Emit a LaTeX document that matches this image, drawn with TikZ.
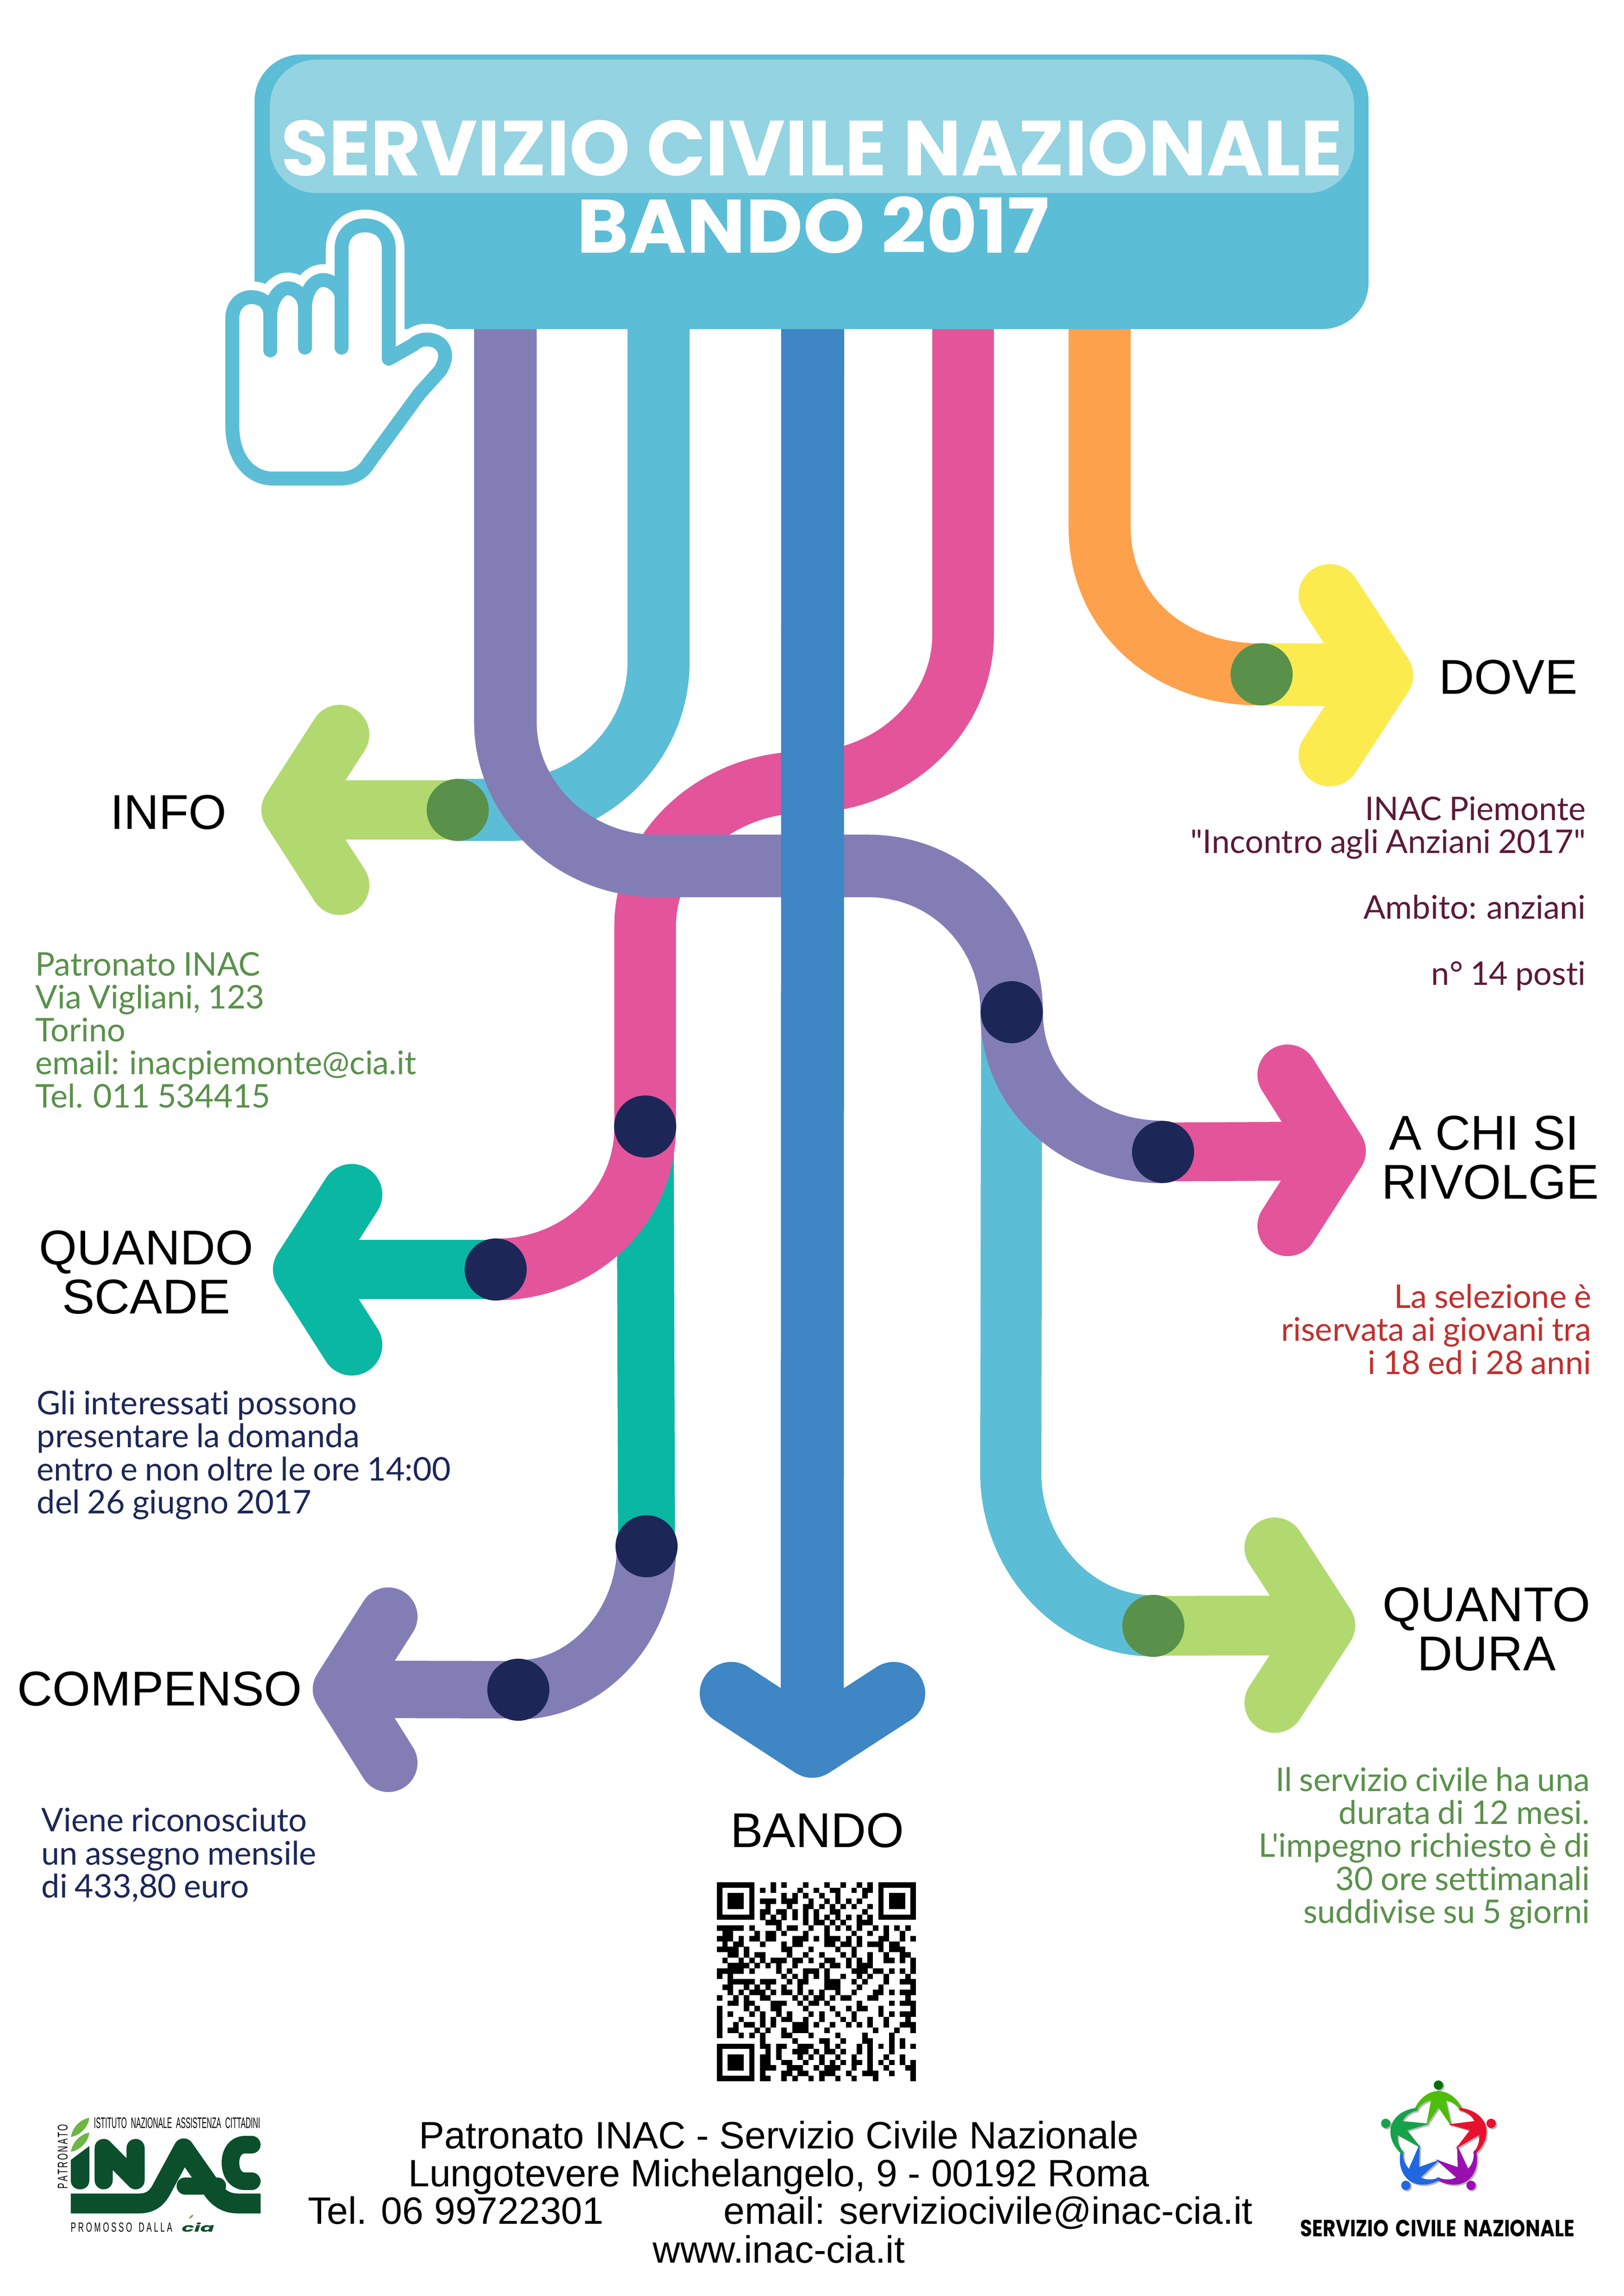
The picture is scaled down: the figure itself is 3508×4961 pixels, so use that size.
\documentclass[tikz,border=0pt]{standalone}
\usepackage{fontspec}
\usepackage{graphicx}
\setmainfont{Liberation Sans}
\newfontfamily\latofont[Ligatures={NoCommon},WordSpace=0.88]{Lato}
\newfontfamily\popfont{Poppins}
\definecolor{hdr}{HTML}{5CBDD6}
\definecolor{hdrl}{HTML}{93D3E2}
\definecolor{cpurple}{HTML}{837DB6}
\definecolor{cblue}{HTML}{3E86C4}
\definecolor{cpink}{HTML}{E4549A}
\definecolor{corange}{HTML}{FEA14C}
\definecolor{cyellow}{HTML}{FBEB4F}
\definecolor{clime}{HTML}{B2D970}
\definecolor{cgreen}{HTML}{59914A}
\definecolor{cnavy}{HTML}{1C2758}
\definecolor{cteal}{HTML}{0AB7A3}
\definecolor{cmaroon}{HTML}{5C1A38}
\definecolor{cred}{HTML}{C0302E}
\definecolor{inacg}{HTML}{0B4F2C}
\definecolor{inacl}{HTML}{6FB544}
\definecolor{scngreen}{HTML}{4DBE0B}
\definecolor{scnred}{HTML}{E8112D}
\definecolor{scnpurple}{HTML}{9A0FB0}
\definecolor{scnblue}{HTML}{1F68E0}
\definecolor{scndark}{HTML}{16A24A}
\tikzset{
  flow/.style={line width=#1, line cap=butt, line join=round},
  head/.style={line width=#1, line cap=round, line join=round},
  dotgreen/.style={circle, fill=cgreen, minimum size=13.4mm, inner sep=0pt},
  dotnavy/.style={circle, fill=cnavy, minimum size=13.4mm, inner sep=0pt},
  lab/.style={font=\fontsize{30}{29.9}\selectfont, align=center, anchor=base, inner sep=0pt, text=black},
  bodyr/.style={font=\latofont\fontsize{20}{20.2}\selectfont, align=right, anchor=base east, inner sep=0pt},
  bodyl/.style={font=\latofont\fontsize{20}{20.2}\selectfont, align=left, anchor=base west, inner sep=0pt},
  foot/.style={font=\fontsize{23.4}{23.5}\selectfont, anchor=base, inner sep=0pt, text=black},
  fit text/.style={inner sep=0pt, anchor=base},
}
\newcommand{\qrrow}[2]{\foreach \c in {#2}{\fill[black] (1549+\c*11.62,4067+#1*11.62) rectangle ++(11.8,11.8);}}
\newcommand{\qrfinder}[2]{%
  \fill[black] (#1,#2) rectangle ++(81.4,81.4);
  \fill[white] (#1+11.62,#2+11.62) rectangle ++(58.1,58.1);
  \fill[black] (#1+23.24,#2+23.24) rectangle ++(34.9,34.9);}
\newcommand{\scnfig}{(-50,-62) .. controls (-38,-88) and (-20,-100) .. (0,-101) .. controls (20,-100) and (38,-88) .. (50,-62) -- (46,-59) .. controls (38,-72) and (28,-80) .. (15,-82) -- (27,-28) -- (0,-67) -- (-25,-30) -- (-15,-82) .. controls (-28,-80) and (-38,-72) .. (-46,-59) -- cycle}
\begin{document}
\begin{tikzpicture}[x=0.01cm,y=-0.01cm]
\useasboundingbox (0,0) rectangle (3508,4961);
\fill[white] (0,0) rectangle (3508,4961);

% named points
\coordinate (tInfo) at (629,1750);
\coordinate (tDove) at (2986,1459);
\coordinate (tChi) at (2886,2487);
\coordinate (tQuando) at (656,2743);
\coordinate (tDura) at (2863,3512);
\coordinate (tComp) at (739,3650);
\coordinate (tBando) at (1755,3773);
\coordinate (pInfo) at (989,1750);
\coordinate (pDove) at (2726,1457);
\coordinate (pA) at (2186,2187);
\coordinate (pChi) at (2513,2489);
\coordinate (pB) at (1394,2434);
\coordinate (pQuando) at (1071,2743);
\coordinate (pC) at (1397,3341);
\coordinate (pComp) at (1120,3651);
\coordinate (pDura) at (2492,3513);

% teal line and arrow
\draw[flow=12.3mm,cteal] (pB) -- (pC);
\draw[flow=12.8mm,cteal] (pQuando) -- (tQuando);
\draw[head=13.2mm,cteal] (760,2581) -- (tQuando) -- (760,2906);

% light blue streams
\draw[flow=13.4mm,hdr] (1423,600) -- (1423,1430) .. controls (1423,1606) and (1278,1750) .. (1100,1750) -- (pInfo);
\draw[flow=13.2mm,hdr] (pA) -- (2184,3183) .. controls (2184,3360) and (2320,3513) .. (pDura);

% lime arrows
\draw[flow=12.7mm,clime] (pInfo) -- (tInfo);
\draw[head=12.8mm,clime] (734,1587) -- (tInfo) -- (734,1913);
\draw[flow=12.9mm,clime] (pDura) -- (tDura);
\draw[head=13mm,clime] (2754,3344) -- (tDura) -- (2754,3679);

% orange and yellow
\draw[flow=13.5mm,cyellow] (pDove) -- (tDove);
\draw[head=13.4mm,cyellow] (2873,1286) -- (tDove) -- (2873,1632);
\draw[flow=13.4mm,corange] (2376,600) -- (2376,1140) .. controls (2376,1320) and (2520,1459) .. (pDove);

% pink stream and arrow
\draw[flow=12.7mm,cpink] (pChi) -- (tChi);
\draw[head=13mm,cpink] (2782,2322) -- (tChi) -- (2782,2649);
\draw[flow=13.3mm,cpink] (2081,600) -- (2081,1370) .. controls (2081,1546) and (1928,1690) .. (1740,1690) .. controls (1550,1690) and (1394,1830) .. (1394,2000) -- (pB) .. controls (1394,2610) and (1250,2743) .. (pQuando);

% purple
\draw[flow=13.5mm,cpurple] (1092,600) -- (1092,1560) .. controls (1092,1730) and (1240,1871) .. (1417,1871) -- (1876,1871) .. controls (2050,1871) and (2185,2010) .. (pA) .. controls (2185,2360) and (2330,2489) .. (pChi);
\draw[flow=12.4mm,cpurple] (pComp) -- (tComp);
\draw[head=12.6mm,cpurple] (839,3493) -- (tComp) -- (839,3809);
\draw[flow=12.8mm,cpurple] (pC) .. controls (1397,3510) and (1270,3651) .. (pComp);

% blue
\draw[flow=13.6mm,cblue] (1756,600) -- (tBando);
\draw[head=13.6mm,cblue] (1580,3659) -- (tBando) -- (1931,3659);

% header
\fill[hdr,rounded corners=1cm] (550,118) rectangle (2957,711);
\fill[hdrl,rounded corners=1cm] (583,129) rectangle (2926,417);
\node[fit text,text=white] (title1) at (1754,380) {\resizebox{22.92cm}{1.2cm}{\popfont\bfseries SERVIZIO CIVILE NAZIONALE}};
\node[fit text,text=white] (title2) at (1757,547) {\resizebox{10.2cm}{1.22cm}{\popfont\bfseries BANDO 2017}};

% hand
\def\handpath{(502,920) -- (502,688) .. controls (502,660) and (520,642) .. (543,642) .. controls (565,642) and (584,655) .. (584,680) .. controls (586,645) and (605,623) .. (621,623) .. controls (640,623) and (659,640) .. (659,665) .. controls (660,625) and (680,605) .. (698,605) .. controls (715,605) and (735,620) .. (738,640) -- (738,538) .. controls (738,505) and (760,487) .. (789,487) .. controls (818,487) and (840,505) .. (840,538) -- (840,775) -- (893,745) .. controls (905,733) and (925,730) .. (943,738) .. controls (965,750) and (968,775) .. (950,802) -- (906,851) -- (797,1000) .. controls (785,1020) and (765,1034) .. (735,1034) -- (590,1034) .. controls (540,1034) and (502,990) .. (502,920) -- cycle}
\draw[line width=6.8mm,white,fill=white,line join=round] \handpath;
\draw[line width=3mm,hdr,fill=white,line join=round] \handpath;
\draw[line width=3mm,hdr,line cap=round] (584,680) -- (584,757);
\draw[line width=3mm,hdr,line cap=round] (659,665) -- (659,751);
\draw[line width=3mm,hdr,line cap=round] (738,640) -- (738,751);

% dots
\node[dotgreen] (dInfo) at (pInfo) {};
\node[dotgreen] (dDove) at (pDove) {};
\node[dotgreen] (dDura) at (pDura) {};
\node[dotnavy] (dA) at (pA) {};
\node[dotnavy] (dChi) at (pChi) {};
\node[dotnavy] (dB) at (pB) {};
\node[dotnavy] (dQuando) at (pQuando) {};
\node[dotnavy] (dC) at (pC) {};
\node[dotnavy] (dComp) at (pComp) {};

% labels
\node[lab] (lDove) at (3259,1499) {DOVE};
\node[lab] (lInfo) at (364,1791) {INFO};
\node[lab] (lChi) at (3220,2590) {A CHI SI\hspace{7.5pt}\mbox{}\\RIVOLGE};
\node[lab] (lQuando) at (316,2838) {QUANDO\\SCADE};
\node[lab] (lComp) at (345,3685) {COMPENSO};
\node[lab] (lDura) at (3212,3609) {QUANTO\\DURA};
\node[lab] (lBando) at (1766,3991) {BANDO};

% body text
\node[bodyr,text=cmaroon] (bDove) at (3427,2128) {INAC Piemonte\\"Incontro agli Anziani 2017"\\~\\Ambito: anziani\\~\\n° 14 posti};
\node[bodyl,text=cgreen] (bInfo) at (76,2393) {Patronato INAC\\Via Vigliani, 123\\Torino\\email: inacpiemonte@cia.it\\Tel. 011 534415};
\node[bodyl,text=cnavy] (bQuando) at (79,3270) {Gli interessati possono\\presentare la domanda\\entro e non oltre le ore 14:00\\del 26 giugno 2017};
\node[bodyr,text=cred] (bChi) at (3439,2969) {La selezione è\\riservata ai giovani tra\\i 18 ed i 28 anni};
\node[bodyl,text=cnavy] (bComp) at (89,4100) {Viene riconosciuto\\un assegno mensile\\di 433,80 euro};
\node[bodyr,text=cgreen] (bDura) at (3436,4155) {Il servizio civile ha una\\durata di 12 mesi.\\L'impegno richiesto è di\\30 ore settimanali\\suddivise su 5 giorni};

% QR code
\qrfinder{1549}{4067}
\qrfinder{1897.6}{4067}
\qrfinder{1549}{4415.6}
\qrrow{0}{10,12,16,...,21,23,26,28}
\qrrow{1}{8,10,15,18,21,22,25,27,28}
\qrrow{2}{12,14,16,19,...,23,27}
\qrrow{3}{8,9,10,12,13,14,17,20,22,24,...,27}
\qrrow{4}{9,13,16,17,19,...,23,25,28}
\qrrow{5}{8,9,11,12,14,...,18,21,22,27}
\qrrow{6}{8,10,12,14,16,18,20,22,24,26,28}
\qrrow{7}{9,10,11,16,18,19,21,23,26,27,28}
\qrrow{8}{0,...,4,6,...,9,11,13,14,17,20,22,...,27,29,31,33,35}
\qrrow{9}{1,2,7,9,10,12,16,...,23,25,28,31,34}
\qrrow{10}{0,1,2,4,6,7,9,10,14,15,16,18,20,21,22,24,...,27,30,31,34,36}
\qrrow{11}{1,3,4,8,12,14,15,20,21,23,24,26,28,29,30,32,33}
\qrrow{12}{0,...,3,5,...,9,12,13,17,22,25,30,32,33,34}
\qrrow{13}{2,3,5,7,8,13,16,...,20,23,25,28,31,34,35}
\qrrow{14}{1,4,6,8,10,11,12,14,15,17,20,21,24,26,...,29,31,32,34,36}
\qrrow{15}{2,...,5,7,9,11,14,19,21,22,24,26,27,28,36}
\qrrow{16}{0,...,4,6,11,13,16,17,18,20,25,26,27,29,30,32,34,36}
\qrrow{17}{0,2,12,14,16,...,20,23,26,28,31,35}
\qrrow{18}{2,...,6,8,9,10,13,15,16,20,21,22,25,27,31,34,35,36}
\qrrow{19}{1,2,5,7,9,12,15,20,21,22,26,...,32,36}
\qrrow{20}{2,4,6,7,8,10,12,13,15,17,19,22,...,26,29,30,32,34,35,36}
\qrrow{21}{0,3,5,8,9,14,16,18,19,21,23,24,28,29,35}
\qrrow{22}{2,3,5,6,10,11,12,15,17,18,20,26,...,32,34,35,36}
\qrrow{23}{0,5,7,10,11,16,21,24,26,27,30,36}
\qrrow{24}{0,2,6,8,11,13,17,19,22,...,27,30,32,34,35,36}
\qrrow{25}{0,4,8,10,12,13,16,...,21,23,25,28,31,35}
\qrrow{26}{0,3,5,6,8,10,14,15,16,18,21,24,26,...,29,31,34,35,36}
\qrrow{27}{0,2,3,7,9,12,14,15,16,20,...,23,29,33,36}
\qrrow{28}{0,4,6,...,9,12,13,17,22,...,34}
\qrrow{29}{8,14,19,20,23,27,28,32,34}
\qrrow{30}{8,9,11,12,15,16,17,20,22,26,28,30,32,...,36}
\qrrow{31}{9,11,14,15,16,18,20,21,23,26,28,32}
\qrrow{32}{8,9,11,15,17,19,22,...,35}
\qrrow{33}{8,9,12,13,16,...,19,21,23,25,26,28,30,32,...,36}
\qrrow{34}{8,9,10,13,14,15,18,20,21,22,25,28,31,35,36}
\qrrow{35}{8,12,13,15,16,19,20,21,24,27,28,29,32,36}
\qrrow{36}{8,9,12,14,17,19,22,...,27,29,...,36}

% footer
\node[foot] (f1) at (1683,4642) {Patronato INAC - Servizio Civile Nazionale};
\node[foot] (f2) at (1683,4724) {Lungotevere Michelangelo, 9 - 00192 Roma};
\node[foot] (f3) at (1686,4805) {Tel. 06 99722301\hspace{73.7pt}email: serviziocivile@inac-cia.it};
\node[foot] (f4) at (1683,4889) {www.inac-cia.it};

% INAC logo
\node[fit text,text=black] (i1) at (382.5,4598) {\resizebox{3.59cm}{0.23cm}{ISTITUTO\ \ NAZIONALE\ \ ASSISTENZA\ \ CITTADINI}};
\node[fit text,text=black,rotate=90] (i2) at (146,4659.5) {\resizebox{1.39cm}{0.21cm}{P\,A\,T\,R\,O\,N\,A\,T\,O}};
\node[fit text,text=black] (i3) at (262.5,4822) {\resizebox{2.19cm}{0.2cm}{P\ R\ O\ M\ O\ S\ S\ O\ \ \ D\ A\ L\ L\ A}};
\fill[inacl] (153,4617) .. controls (158,4592) and (178,4578) .. (193,4576) .. controls (190,4600) and (168,4616) .. cycle;
\fill[inacl] (153,4649) .. controls (158,4624) and (178,4610) .. (193,4608) .. controls (190,4632) and (168,4648) .. cycle;
\fill[inacg] (153,4667) -- (193,4637) -- (193,4711) .. controls (193,4737) and (153,4737) .. (153,4711) -- cycle;
\draw[line width=3.9mm,inacg,line cap=round,line join=round] (224,4711) -- (224,4641) -- (293,4711) -- (293,4641);
\draw[line width=4.3mm,inacg,line join=round] (153,4761) -- (300,4761) .. controls (330,4761) and (342,4745) .. (352,4725) -- (397,4642) -- (462,4735) .. controls (478,4755) and (495,4761) .. (515,4761) -- (563,4761);
\draw[line width=3.7mm,inacg,line cap=round] (400,4723) -- (470,4723);
\draw[line width=3.8mm,inacg,line cap=round] (544,4634) -- (530,4634) .. controls (510,4634) and (498,4650) .. (498,4673) .. controls (498,4696) and (510,4713) .. (530,4713) -- (544,4713);
\node[fit text,text=inacg] (i4) at (428,4822) {\resizebox{0.7cm}{0.2cm}{\popfont\bfseries\itshape cia}};
\fill[inacl] (408,4794) .. controls (410,4788) and (414,4786) .. (418,4785) .. controls (417,4790) and (413,4793) .. cycle;

% SCN logo
\foreach \k in {0,...,4}{
  \begin{scope}[shift={(3111,4628)},rotate=-72*\k,scale=1.06]
    \fill[black!28] \scnfig;
    \fill[black!28] (0,-113) circle (9.5);
  \end{scope}
}
\foreach \k/\colr/\hd in {0/scngreen/{green!45!black},1/scnred/scnred,2/scnpurple/scnpurple,3/scnblue/scnblue,4/scndark/scndark}{
  \begin{scope}[shift={(3108,4625)},rotate=-72*\k,scale=1.06]
    \fill[\colr] \scnfig;
    \fill[\hd] (0,-113) circle (9.5);
  \end{scope}
}
\node[fit text,text=black] (s1) at (3106,4832) {\resizebox{5.92cm}{0.36cm}{\popfont\bfseries SERVIZIO\hspace{0.15em} CIVILE\hspace{0.15em} NAZIONALE}};
\end{tikzpicture}
\end{document}
